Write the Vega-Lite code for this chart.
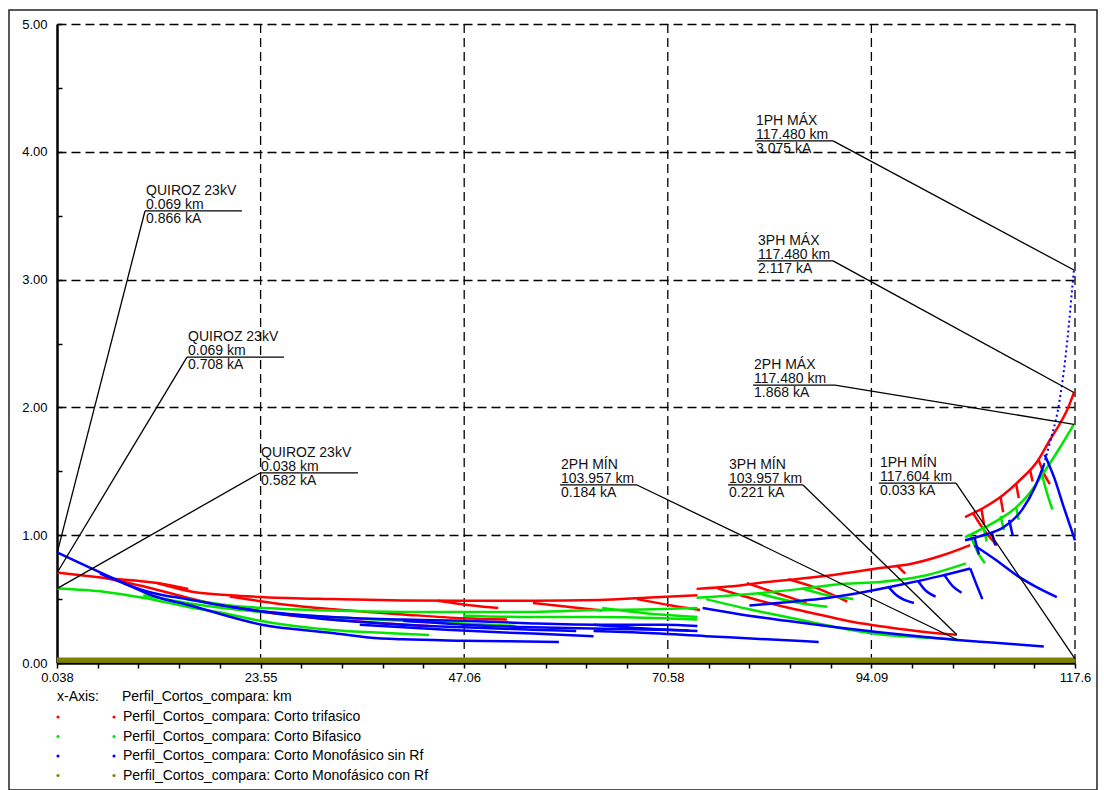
{
  "$schema": "https://vega.github.io/schema/vega-lite/v6.json",
  "width": 1088,
  "height": 780,
  "autosize": "none",
  "padding": {"left": 9, "top": 10, "right": 7, "bottom": 0},
  "background": "#ffffff",
  "config": {
    "view": {"stroke": "#222222", "strokeWidth": 1.5},
    "font": "Liberation Sans",
    "axis": {"labelFont": "Liberation Sans", "labelColor": "#000000"},
    "legend": {
      "padding": 0,
      "titleFont": "Liberation Sans",
      "titleFontSize": 14,
      "titleFontWeight": "normal",
      "titleColor": "#000000",
      "titlePadding": 6,
      "labelFont": "Liberation Sans",
      "labelFontSize": 14,
      "labelColor": "#000000",
      "rowPadding": 5.5,
      "symbolType": "circle",
      "symbolSize": 10,
      "symbolStrokeWidth": 0,
      "labelLimit": 600
    }
  },
  "datasets": {
    "perfil": [
      {"serie": "Corto trifasico", "tramo": "r1", "km": 0.038, "ka": 0.708},
      {"serie": "Corto trifasico", "tramo": "r1", "km": 5.6, "ka": 0.665},
      {"serie": "Corto trifasico", "tramo": "r1", "km": 11.6, "ka": 0.626},
      {"serie": "Corto trifasico", "tramo": "r1", "km": 15.2, "ka": 0.58},
      {"serie": "Corto trifasico", "tramo": "r2", "km": 11.6, "ka": 0.626},
      {"serie": "Corto trifasico", "tramo": "r2", "km": 15.5, "ka": 0.56},
      {"serie": "Corto trifasico", "tramo": "r2", "km": 20, "ka": 0.53},
      {"serie": "Corto trifasico", "tramo": "r2", "km": 24, "ka": 0.515},
      {"serie": "Corto trifasico", "tramo": "r2", "km": 31.6, "ka": 0.5},
      {"serie": "Corto trifasico", "tramo": "r2", "km": 40, "ka": 0.49},
      {"serie": "Corto trifasico", "tramo": "r2", "km": 47, "ka": 0.487},
      {"serie": "Corto trifasico", "tramo": "r2", "km": 55, "ka": 0.487},
      {"serie": "Corto trifasico", "tramo": "r2", "km": 62.7, "ka": 0.493},
      {"serie": "Corto trifasico", "tramo": "r2", "km": 68, "ka": 0.51},
      {"serie": "Corto trifasico", "tramo": "r2", "km": 74, "ka": 0.53},
      {"serie": "Corto trifasico", "tramo": "r3", "km": 5.6, "ka": 0.665},
      {"serie": "Corto trifasico", "tramo": "r3", "km": 10, "ka": 0.6},
      {"serie": "Corto trifasico", "tramo": "r3", "km": 14, "ka": 0.53},
      {"serie": "Corto trifasico", "tramo": "r3", "km": 18.3, "ka": 0.46},
      {"serie": "Corto trifasico", "tramo": "r3", "km": 23.7, "ka": 0.4},
      {"serie": "Corto trifasico", "tramo": "r3", "km": 31.8, "ka": 0.34},
      {"serie": "Corto trifasico", "tramo": "r3", "km": 38, "ka": 0.31},
      {"serie": "Corto trifasico", "tramo": "r3", "km": 43, "ka": 0.29},
      {"serie": "Corto trifasico", "tramo": "r4", "km": 20, "ka": 0.52},
      {"serie": "Corto trifasico", "tramo": "r4", "km": 26, "ka": 0.46},
      {"serie": "Corto trifasico", "tramo": "r4", "km": 32, "ka": 0.42},
      {"serie": "Corto trifasico", "tramo": "r4", "km": 40, "ka": 0.38},
      {"serie": "Corto trifasico", "tramo": "r4", "km": 47, "ka": 0.35},
      {"serie": "Corto trifasico", "tramo": "r4", "km": 52, "ka": 0.34},
      {"serie": "Corto trifasico", "tramo": "r5", "km": 44, "ka": 0.487},
      {"serie": "Corto trifasico", "tramo": "r5", "km": 48, "ka": 0.45},
      {"serie": "Corto trifasico", "tramo": "r5", "km": 51, "ka": 0.43},
      {"serie": "Corto trifasico", "tramo": "r16", "km": 55, "ka": 0.47},
      {"serie": "Corto trifasico", "tramo": "r16", "km": 59, "ka": 0.44},
      {"serie": "Corto trifasico", "tramo": "r16", "km": 63, "ka": 0.41},
      {"serie": "Corto trifasico", "tramo": "r6", "km": 67, "ka": 0.5},
      {"serie": "Corto trifasico", "tramo": "r6", "km": 71, "ka": 0.45},
      {"serie": "Corto trifasico", "tramo": "r6", "km": 74.3, "ka": 0.415},
      {"serie": "Corto trifasico", "tramo": "rb", "km": 73.9, "ka": 0.58},
      {"serie": "Corto trifasico", "tramo": "rb", "km": 78, "ka": 0.6},
      {"serie": "Corto trifasico", "tramo": "rb", "km": 82, "ka": 0.634},
      {"serie": "Corto trifasico", "tramo": "rb", "km": 85.9, "ka": 0.66},
      {"serie": "Corto trifasico", "tramo": "rb", "km": 89.7, "ka": 0.689},
      {"serie": "Corto trifasico", "tramo": "rb", "km": 95.1, "ka": 0.743},
      {"serie": "Corto trifasico", "tramo": "rb", "km": 98.6, "ka": 0.775},
      {"serie": "Corto trifasico", "tramo": "rb", "km": 102.4, "ka": 0.845},
      {"serie": "Corto trifasico", "tramo": "rb", "km": 105.5, "ka": 0.923},
      {"serie": "Corto trifasico", "tramo": "rd", "km": 76.3, "ka": 0.585},
      {"serie": "Corto trifasico", "tramo": "rd", "km": 80, "ka": 0.51},
      {"serie": "Corto trifasico", "tramo": "rd", "km": 84, "ka": 0.44},
      {"serie": "Corto trifasico", "tramo": "rd", "km": 88, "ka": 0.38},
      {"serie": "Corto trifasico", "tramo": "rd", "km": 92, "ka": 0.32},
      {"serie": "Corto trifasico", "tramo": "rd", "km": 96, "ka": 0.28},
      {"serie": "Corto trifasico", "tramo": "rd", "km": 100, "ka": 0.245},
      {"serie": "Corto trifasico", "tramo": "rd", "km": 103.957, "ka": 0.221},
      {"serie": "Corto trifasico", "tramo": "r7", "km": 79.7, "ka": 0.625},
      {"serie": "Corto trifasico", "tramo": "r7", "km": 83, "ka": 0.55},
      {"serie": "Corto trifasico", "tramo": "r7", "km": 86.6, "ka": 0.47},
      {"serie": "Corto trifasico", "tramo": "r8", "km": 84.5, "ka": 0.655},
      {"serie": "Corto trifasico", "tramo": "r8", "km": 88, "ka": 0.58},
      {"serie": "Corto trifasico", "tramo": "r8", "km": 91.3, "ka": 0.48},
      {"serie": "Corto trifasico", "tramo": "r9", "km": 97, "ka": 0.765},
      {"serie": "Corto trifasico", "tramo": "r9", "km": 98, "ka": 0.7},
      {"serie": "Corto trifasico", "tramo": "rc", "km": 104.9, "ka": 1.142},
      {"serie": "Corto trifasico", "tramo": "rc", "km": 107, "ka": 1.213},
      {"serie": "Corto trifasico", "tramo": "rc", "km": 109.3, "ka": 1.315},
      {"serie": "Corto trifasico", "tramo": "rc", "km": 111.25, "ka": 1.432},
      {"serie": "Corto trifasico", "tramo": "rc", "km": 113.2, "ka": 1.573},
      {"serie": "Corto trifasico", "tramo": "rc", "km": 114.7, "ka": 1.745},
      {"serie": "Corto trifasico", "tramo": "rc", "km": 115.9, "ka": 1.878},
      {"serie": "Corto trifasico", "tramo": "rc", "km": 116.8, "ka": 1.995},
      {"serie": "Corto trifasico", "tramo": "rc", "km": 117.48, "ka": 2.117},
      {"serie": "Corto trifasico", "tramo": "r10", "km": 105.8, "ka": 1.175},
      {"serie": "Corto trifasico", "tramo": "r10", "km": 107.2, "ka": 1.03},
      {"serie": "Corto trifasico", "tramo": "r10", "km": 108.6, "ka": 0.92},
      {"serie": "Corto trifasico", "tramo": "r11", "km": 106.8, "ka": 1.205},
      {"serie": "Corto trifasico", "tramo": "r11", "km": 107.1, "ka": 1.08},
      {"serie": "Corto trifasico", "tramo": "r12", "km": 109, "ka": 1.3},
      {"serie": "Corto trifasico", "tramo": "r12", "km": 109.3, "ka": 1.18},
      {"serie": "Corto trifasico", "tramo": "r13", "km": 110.8, "ka": 1.405},
      {"serie": "Corto trifasico", "tramo": "r13", "km": 111.1, "ka": 1.29},
      {"serie": "Corto trifasico", "tramo": "r14", "km": 113.4, "ka": 1.59},
      {"serie": "Corto trifasico", "tramo": "r14", "km": 114.1, "ka": 1.47},
      {"serie": "Corto trifasico", "tramo": "r14", "km": 114.7, "ka": 1.4},
      {"serie": "Corto trifasico", "tramo": "r15", "km": 112.4, "ka": 1.515},
      {"serie": "Corto trifasico", "tramo": "r15", "km": 112.7, "ka": 1.42},

      {"serie": "Corto Bifasico", "tramo": "g1", "km": 0.038, "ka": 0.582},
      {"serie": "Corto Bifasico", "tramo": "g1", "km": 5.6, "ka": 0.556},
      {"serie": "Corto Bifasico", "tramo": "g1", "km": 10, "ka": 0.51},
      {"serie": "Corto Bifasico", "tramo": "g1", "km": 15.2, "ka": 0.438},
      {"serie": "Corto Bifasico", "tramo": "g1", "km": 20, "ka": 0.38},
      {"serie": "Corto Bifasico", "tramo": "g1", "km": 23, "ka": 0.336},
      {"serie": "Corto Bifasico", "tramo": "g1", "km": 31.8, "ka": 0.258},
      {"serie": "Corto Bifasico", "tramo": "g1", "km": 38, "ka": 0.235},
      {"serie": "Corto Bifasico", "tramo": "g1", "km": 43, "ka": 0.22},
      {"serie": "Corto Bifasico", "tramo": "g2", "km": 15, "ka": 0.5},
      {"serie": "Corto Bifasico", "tramo": "g2", "km": 20, "ka": 0.45},
      {"serie": "Corto Bifasico", "tramo": "g2", "km": 24, "ka": 0.43},
      {"serie": "Corto Bifasico", "tramo": "g2", "km": 31.6, "ka": 0.41},
      {"serie": "Corto Bifasico", "tramo": "g2", "km": 40, "ka": 0.4},
      {"serie": "Corto Bifasico", "tramo": "g2", "km": 47, "ka": 0.4},
      {"serie": "Corto Bifasico", "tramo": "g2", "km": 55, "ka": 0.4},
      {"serie": "Corto Bifasico", "tramo": "g2", "km": 62.7, "ka": 0.415},
      {"serie": "Corto Bifasico", "tramo": "g2", "km": 69, "ka": 0.42},
      {"serie": "Corto Bifasico", "tramo": "g2", "km": 74, "ka": 0.43},
      {"serie": "Corto Bifasico", "tramo": "g3", "km": 10, "ka": 0.53},
      {"serie": "Corto Bifasico", "tramo": "g3", "km": 15, "ka": 0.47},
      {"serie": "Corto Bifasico", "tramo": "g3", "km": 23.5, "ka": 0.4},
      {"serie": "Corto Bifasico", "tramo": "g3", "km": 31.6, "ka": 0.36},
      {"serie": "Corto Bifasico", "tramo": "g3", "km": 40, "ka": 0.33},
      {"serie": "Corto Bifasico", "tramo": "g3", "km": 47, "ka": 0.31},
      {"serie": "Corto Bifasico", "tramo": "g3", "km": 53, "ka": 0.29},
      {"serie": "Corto Bifasico", "tramo": "g12", "km": 47, "ka": 0.37},
      {"serie": "Corto Bifasico", "tramo": "g12", "km": 55, "ka": 0.36},
      {"serie": "Corto Bifasico", "tramo": "g12", "km": 62, "ka": 0.36},
      {"serie": "Corto Bifasico", "tramo": "g12", "km": 70, "ka": 0.35},
      {"serie": "Corto Bifasico", "tramo": "g12", "km": 74, "ka": 0.34},
      {"serie": "Corto Bifasico", "tramo": "g4", "km": 63, "ka": 0.43},
      {"serie": "Corto Bifasico", "tramo": "g4", "km": 68, "ka": 0.39},
      {"serie": "Corto Bifasico", "tramo": "g4", "km": 74, "ka": 0.36},
      {"serie": "Corto Bifasico", "tramo": "gb", "km": 73.9, "ka": 0.51},
      {"serie": "Corto Bifasico", "tramo": "gb", "km": 80, "ka": 0.54},
      {"serie": "Corto Bifasico", "tramo": "gb", "km": 85.9, "ka": 0.58},
      {"serie": "Corto Bifasico", "tramo": "gb", "km": 91, "ka": 0.62},
      {"serie": "Corto Bifasico", "tramo": "gb", "km": 95.1, "ka": 0.634},
      {"serie": "Corto Bifasico", "tramo": "gb", "km": 100, "ka": 0.68},
      {"serie": "Corto Bifasico", "tramo": "gb", "km": 105, "ka": 0.78},
      {"serie": "Corto Bifasico", "tramo": "gd", "km": 75, "ka": 0.5},
      {"serie": "Corto Bifasico", "tramo": "gd", "km": 80, "ka": 0.42},
      {"serie": "Corto Bifasico", "tramo": "gd", "km": 85, "ka": 0.35},
      {"serie": "Corto Bifasico", "tramo": "gd", "km": 90, "ka": 0.28},
      {"serie": "Corto Bifasico", "tramo": "gd", "km": 95, "ka": 0.225},
      {"serie": "Corto Bifasico", "tramo": "gd", "km": 100, "ka": 0.2},
      {"serie": "Corto Bifasico", "tramo": "gd", "km": 103.957, "ka": 0.184},
      {"serie": "Corto Bifasico", "tramo": "g5", "km": 81, "ka": 0.545},
      {"serie": "Corto Bifasico", "tramo": "g5", "km": 85, "ka": 0.48},
      {"serie": "Corto Bifasico", "tramo": "g5", "km": 89, "ka": 0.44},
      {"serie": "Corto Bifasico", "tramo": "g6", "km": 86, "ka": 0.585},
      {"serie": "Corto Bifasico", "tramo": "g6", "km": 89, "ka": 0.53},
      {"serie": "Corto Bifasico", "tramo": "g6", "km": 92, "ka": 0.5},
      {"serie": "Corto Bifasico", "tramo": "gc", "km": 104.9, "ka": 0.985},
      {"serie": "Corto Bifasico", "tramo": "gc", "km": 108.1, "ka": 1.095},
      {"serie": "Corto Bifasico", "tramo": "gc", "km": 110.4, "ka": 1.195},
      {"serie": "Corto Bifasico", "tramo": "gc", "km": 112, "ka": 1.3},
      {"serie": "Corto Bifasico", "tramo": "gc", "km": 113.8, "ka": 1.47},
      {"serie": "Corto Bifasico", "tramo": "gc", "km": 115.9, "ka": 1.69},
      {"serie": "Corto Bifasico", "tramo": "gc", "km": 117.48, "ka": 1.868},
      {"serie": "Corto Bifasico", "tramo": "g7", "km": 105.5, "ka": 1.0},
      {"serie": "Corto Bifasico", "tramo": "g7", "km": 106.5, "ka": 0.85},
      {"serie": "Corto Bifasico", "tramo": "g7", "km": 107.2, "ka": 0.78},
      {"serie": "Corto Bifasico", "tramo": "g8", "km": 107, "ka": 1.07},
      {"serie": "Corto Bifasico", "tramo": "g8", "km": 107.4, "ka": 0.95},
      {"serie": "Corto Bifasico", "tramo": "g9", "km": 109, "ka": 1.15},
      {"serie": "Corto Bifasico", "tramo": "g9", "km": 109.4, "ka": 1.04},
      {"serie": "Corto Bifasico", "tramo": "g10", "km": 110.8, "ka": 1.22},
      {"serie": "Corto Bifasico", "tramo": "g10", "km": 111.1, "ka": 1.12},
      {"serie": "Corto Bifasico", "tramo": "g11", "km": 113.8, "ka": 1.47},
      {"serie": "Corto Bifasico", "tramo": "g11", "km": 114.5, "ka": 1.3},
      {"serie": "Corto Bifasico", "tramo": "g11", "km": 115, "ka": 1.2},

      {"serie": "Corto Monofásico sin Rf", "tramo": "b1", "km": 0.038, "ka": 0.866},
      {"serie": "Corto Monofásico sin Rf", "tramo": "b1", "km": 3.7, "ka": 0.75},
      {"serie": "Corto Monofásico sin Rf", "tramo": "b1", "km": 7.6, "ka": 0.63},
      {"serie": "Corto Monofásico sin Rf", "tramo": "b1", "km": 11.4, "ka": 0.52},
      {"serie": "Corto Monofásico sin Rf", "tramo": "b1", "km": 15.2, "ka": 0.454},
      {"serie": "Corto Monofásico sin Rf", "tramo": "b1", "km": 23.7, "ka": 0.3},
      {"serie": "Corto Monofásico sin Rf", "tramo": "b1", "km": 31.8, "ka": 0.235},
      {"serie": "Corto Monofásico sin Rf", "tramo": "b1", "km": 36, "ka": 0.2},
      {"serie": "Corto Monofásico sin Rf", "tramo": "b1", "km": 40, "ka": 0.185},
      {"serie": "Corto Monofásico sin Rf", "tramo": "b1", "km": 47, "ka": 0.175},
      {"serie": "Corto Monofásico sin Rf", "tramo": "b1", "km": 52, "ka": 0.17},
      {"serie": "Corto Monofásico sin Rf", "tramo": "b1", "km": 58, "ka": 0.165},
      {"serie": "Corto Monofásico sin Rf", "tramo": "b2", "km": 5, "ka": 0.7},
      {"serie": "Corto Monofásico sin Rf", "tramo": "b2", "km": 11, "ka": 0.55},
      {"serie": "Corto Monofásico sin Rf", "tramo": "b2", "km": 15, "ka": 0.5},
      {"serie": "Corto Monofásico sin Rf", "tramo": "b2", "km": 23, "ka": 0.41},
      {"serie": "Corto Monofásico sin Rf", "tramo": "b2", "km": 31.6, "ka": 0.36},
      {"serie": "Corto Monofásico sin Rf", "tramo": "b2", "km": 40, "ka": 0.34},
      {"serie": "Corto Monofásico sin Rf", "tramo": "b2", "km": 47, "ka": 0.33},
      {"serie": "Corto Monofásico sin Rf", "tramo": "b2", "km": 55, "ka": 0.31},
      {"serie": "Corto Monofásico sin Rf", "tramo": "b2", "km": 62.7, "ka": 0.3},
      {"serie": "Corto Monofásico sin Rf", "tramo": "b2", "km": 70, "ka": 0.3},
      {"serie": "Corto Monofásico sin Rf", "tramo": "b2", "km": 74, "ka": 0.29},
      {"serie": "Corto Monofásico sin Rf", "tramo": "b3", "km": 20, "ka": 0.44},
      {"serie": "Corto Monofásico sin Rf", "tramo": "b3", "km": 31.6, "ka": 0.34},
      {"serie": "Corto Monofásico sin Rf", "tramo": "b3", "km": 40, "ka": 0.3},
      {"serie": "Corto Monofásico sin Rf", "tramo": "b3", "km": 47, "ka": 0.28},
      {"serie": "Corto Monofásico sin Rf", "tramo": "b3", "km": 55, "ka": 0.26},
      {"serie": "Corto Monofásico sin Rf", "tramo": "b3", "km": 60, "ka": 0.25},
      {"serie": "Corto Monofásico sin Rf", "tramo": "b4", "km": 40, "ka": 0.33},
      {"serie": "Corto Monofásico sin Rf", "tramo": "b4", "km": 47, "ka": 0.3},
      {"serie": "Corto Monofásico sin Rf", "tramo": "b4", "km": 55, "ka": 0.28},
      {"serie": "Corto Monofásico sin Rf", "tramo": "b4", "km": 62, "ka": 0.27},
      {"serie": "Corto Monofásico sin Rf", "tramo": "b4", "km": 70, "ka": 0.26},
      {"serie": "Corto Monofásico sin Rf", "tramo": "b4", "km": 74, "ka": 0.25},
      {"serie": "Corto Monofásico sin Rf", "tramo": "b15", "km": 35, "ka": 0.3},
      {"serie": "Corto Monofásico sin Rf", "tramo": "b15", "km": 45, "ka": 0.26},
      {"serie": "Corto Monofásico sin Rf", "tramo": "b15", "km": 55, "ka": 0.23},
      {"serie": "Corto Monofásico sin Rf", "tramo": "b15", "km": 62, "ka": 0.21},
      {"serie": "Corto Monofásico sin Rf", "tramo": "b16", "km": 62, "ka": 0.3},
      {"serie": "Corto Monofásico sin Rf", "tramo": "b16", "km": 68, "ka": 0.27},
      {"serie": "Corto Monofásico sin Rf", "tramo": "b16", "km": 73, "ka": 0.255},
      {"serie": "Corto Monofásico sin Rf", "tramo": "b5", "km": 62, "ka": 0.25},
      {"serie": "Corto Monofásico sin Rf", "tramo": "b5", "km": 66.5, "ka": 0.24},
      {"serie": "Corto Monofásico sin Rf", "tramo": "b5", "km": 75, "ka": 0.21},
      {"serie": "Corto Monofásico sin Rf", "tramo": "b5", "km": 82, "ka": 0.185},
      {"serie": "Corto Monofásico sin Rf", "tramo": "b5", "km": 88, "ka": 0.165},
      {"serie": "Corto Monofásico sin Rf", "tramo": "bb", "km": 74.6, "ka": 0.43},
      {"serie": "Corto Monofásico sin Rf", "tramo": "bb", "km": 79, "ka": 0.38},
      {"serie": "Corto Monofásico sin Rf", "tramo": "bb", "km": 84.3, "ka": 0.33},
      {"serie": "Corto Monofásico sin Rf", "tramo": "bb", "km": 90, "ka": 0.28},
      {"serie": "Corto Monofásico sin Rf", "tramo": "bb", "km": 95, "ka": 0.24},
      {"serie": "Corto Monofásico sin Rf", "tramo": "bb", "km": 100, "ka": 0.205},
      {"serie": "Corto Monofásico sin Rf", "tramo": "bb", "km": 104, "ka": 0.18},
      {"serie": "Corto Monofásico sin Rf", "tramo": "bb", "km": 108, "ka": 0.16},
      {"serie": "Corto Monofásico sin Rf", "tramo": "bb", "km": 114, "ka": 0.13},
      {"serie": "Corto Monofásico sin Rf", "tramo": "bc", "km": 80, "ka": 0.45},
      {"serie": "Corto Monofásico sin Rf", "tramo": "bc", "km": 85, "ka": 0.48},
      {"serie": "Corto Monofásico sin Rf", "tramo": "bc", "km": 88, "ka": 0.5},
      {"serie": "Corto Monofásico sin Rf", "tramo": "bc", "km": 92.8, "ka": 0.55},
      {"serie": "Corto Monofásico sin Rf", "tramo": "bc", "km": 98, "ka": 0.62},
      {"serie": "Corto Monofásico sin Rf", "tramo": "bc", "km": 102, "ka": 0.68},
      {"serie": "Corto Monofásico sin Rf", "tramo": "bc", "km": 105.5, "ka": 0.74},
      {"serie": "Corto Monofásico sin Rf", "tramo": "b6", "km": 96, "ka": 0.6},
      {"serie": "Corto Monofásico sin Rf", "tramo": "b6", "km": 97, "ka": 0.53},
      {"serie": "Corto Monofásico sin Rf", "tramo": "b6", "km": 99, "ka": 0.47},
      {"serie": "Corto Monofásico sin Rf", "tramo": "b7", "km": 99.5, "ka": 0.64},
      {"serie": "Corto Monofásico sin Rf", "tramo": "b7", "km": 100.3, "ka": 0.57},
      {"serie": "Corto Monofásico sin Rf", "tramo": "b7", "km": 101.5, "ka": 0.52},
      {"serie": "Corto Monofásico sin Rf", "tramo": "b8", "km": 102.5, "ka": 0.69},
      {"serie": "Corto Monofásico sin Rf", "tramo": "b8", "km": 103.5, "ka": 0.6},
      {"serie": "Corto Monofásico sin Rf", "tramo": "b8", "km": 104.5, "ka": 0.55},
      {"serie": "Corto Monofásico sin Rf", "tramo": "b9", "km": 105.5, "ka": 0.74},
      {"serie": "Corto Monofásico sin Rf", "tramo": "b9", "km": 106.3, "ka": 0.6},
      {"serie": "Corto Monofásico sin Rf", "tramo": "b9", "km": 106.9, "ka": 0.5},
      {"serie": "Corto Monofásico sin Rf", "tramo": "b10", "km": 106, "ka": 0.92},
      {"serie": "Corto Monofásico sin Rf", "tramo": "b10", "km": 108.6, "ka": 0.8},
      {"serie": "Corto Monofásico sin Rf", "tramo": "b10", "km": 111, "ka": 0.68},
      {"serie": "Corto Monofásico sin Rf", "tramo": "b10", "km": 113, "ka": 0.6},
      {"serie": "Corto Monofásico sin Rf", "tramo": "b10", "km": 115.5, "ka": 0.516},
      {"serie": "Corto Monofásico sin Rf", "tramo": "bd", "km": 104.9, "ka": 0.96},
      {"serie": "Corto Monofásico sin Rf", "tramo": "bd", "km": 107, "ka": 1.0},
      {"serie": "Corto Monofásico sin Rf", "tramo": "bd", "km": 109.3, "ka": 1.06},
      {"serie": "Corto Monofásico sin Rf", "tramo": "bd", "km": 111.5, "ka": 1.2},
      {"serie": "Corto Monofásico sin Rf", "tramo": "bd", "km": 113, "ka": 1.38},
      {"serie": "Corto Monofásico sin Rf", "tramo": "bd", "km": 114, "ka": 1.55},
      {"serie": "Corto Monofásico sin Rf", "tramo": "b11", "km": 114.1, "ka": 1.63},
      {"serie": "Corto Monofásico sin Rf", "tramo": "b11", "km": 115.2, "ka": 1.45},
      {"serie": "Corto Monofásico sin Rf", "tramo": "b11", "km": 116.3, "ka": 1.22},
      {"serie": "Corto Monofásico sin Rf", "tramo": "b11", "km": 117.6, "ka": 0.96},
      {"serie": "Corto Monofásico sin Rf", "tramo": "b12", "km": 106, "ka": 0.98},
      {"serie": "Corto Monofásico sin Rf", "tramo": "b12", "km": 106.5, "ka": 0.85},
      {"serie": "Corto Monofásico sin Rf", "tramo": "b13", "km": 108, "ka": 1.02},
      {"serie": "Corto Monofásico sin Rf", "tramo": "b13", "km": 108.4, "ka": 0.92},
      {"serie": "Corto Monofásico sin Rf", "tramo": "b14", "km": 110, "ka": 1.12},
      {"serie": "Corto Monofásico sin Rf", "tramo": "b14", "km": 110.4, "ka": 1.0},

      {"serie": "Corto Monofásico con Rf", "tramo": "o1", "km": 0.038, "ka": 0.033},
      {"serie": "Corto Monofásico con Rf", "tramo": "o1", "km": 117.604, "ka": 0.033},
      {"serie": "Corto Monofásico con Rf", "tramo": "o2", "km": 0.038, "ka": 0.022},
      {"serie": "Corto Monofásico con Rf", "tramo": "o2", "km": 117.6, "ka": 0.022},
      {"serie": "Corto Monofásico con Rf", "tramo": "o3", "km": 0.038, "ka": 0.012},
      {"serie": "Corto Monofásico con Rf", "tramo": "o3", "km": 117.6, "ka": 0.012}
    ],
    "punteado": [
      {"serie": "Corto Monofásico sin Rf", "tramo": "bd2", "km": 114, "ka": 1.55},
      {"serie": "Corto Monofásico sin Rf", "tramo": "bd2", "km": 114.8, "ka": 1.75},
      {"serie": "Corto Monofásico sin Rf", "tramo": "bd2", "km": 115.6, "ka": 1.97},
      {"serie": "Corto Monofásico sin Rf", "tramo": "bd2", "km": 116.3, "ka": 2.28},
      {"serie": "Corto Monofásico sin Rf", "tramo": "bd2", "km": 116.9, "ka": 2.65},
      {"serie": "Corto Monofásico sin Rf", "tramo": "bd2", "km": 117.3, "ka": 2.95},
      {"serie": "Corto Monofásico sin Rf", "tramo": "bd2", "km": 117.48, "ka": 3.075}
    ],
    "rejilla": [
      {"km": 23.5504},
      {"km": 47.0628},
      {"km": 70.5752},
      {"km": 94.0876},
      {"km": 117.6}
    ],
    "marcas": [
      {"etiqueta": "1PH MÁX\n117.480 km\n3.075 kA", "km": 117.48, "ka": 3.075, "ux1": 80.64, "ux2": 89.66, "uy": 4.085, "ax": 89.66},
      {"etiqueta": "3PH MÁX\n117.480 km\n2.117 kA", "km": 117.48, "ka": 2.117, "ux1": 80.88, "ux2": 89.66, "uy": 3.146, "ax": 89.66},
      {"etiqueta": "2PH MÁX\n117.480 km\n1.868 kA", "km": 117.48, "ka": 1.868, "ux1": 80.42, "ux2": 89.89, "uy": 2.175, "ax": 89.89},
      {"etiqueta": "1PH MÍN\n117.604 km\n0.033 kA", "km": 117.604, "ka": 0.033, "ux1": 94.96, "ux2": 103.86, "uy": 1.408, "ax": 103.86},
      {"etiqueta": "3PH MÍN\n103.957 km\n0.221 kA", "km": 103.957, "ka": 0.221, "ux1": 77.53, "ux2": 86.19, "uy": 1.393, "ax": 86.19},
      {"etiqueta": "2PH MÍN\n103.957 km\n0.184 kA", "km": 103.957, "ka": 0.184, "ux1": 58.13, "ux2": 67.02, "uy": 1.393, "ax": 67.02},
      {"etiqueta": "QUIROZ 23kV\n0.069 km\n0.866 kA", "km": 0.069, "ka": 0.866, "ux1": 10.2, "ux2": 21.4, "uy": 3.537, "ax": 10.2},
      {"etiqueta": "QUIROZ 23kV\n0.069 km\n0.708 kA", "km": 0.069, "ka": 0.708, "ux1": 15.05, "ux2": 26.25, "uy": 2.394, "ax": 15.05},
      {"etiqueta": "QUIROZ 23kV\n0.038 km\n0.582 kA", "km": 0.038, "ka": 0.582, "ux1": 23.48, "ux2": 34.8, "uy": 1.487, "ax": 23.48}
    ],
    "claves": [
      {"serie": "Corto trifasico"},
      {"serie": "Corto Bifasico"},
      {"serie": "Corto Monofásico sin Rf"},
      {"serie": "Corto Monofásico con Rf"}
    ]
  },
  "layer": [
    {
      "data": {"name": "rejilla"},
      "mark": {"type": "rule", "color": "#000000", "strokeWidth": 1.3, "strokeDash": [9, 5]},
      "encoding": {
        "x": {"field": "km", "type": "quantitative"},
        "y": {"datum": 0, "type": "quantitative"},
        "y2": {"datum": 5}
      }
    },
    {
      "data": {"name": "perfil"},
      "mark": {"type": "line", "strokeWidth": 2.5, "interpolate": "monotone"},
      "encoding": {
        "x": {
          "field": "km",
          "type": "quantitative",
          "scale": {"domain": [0.038, 117.6], "range": [48, 1066], "nice": false, "zero": false},
          "axis": {
            "title": null,
            "offset": -127,
            "values": [0.038, 2.3892, 4.7405, 7.0917, 9.443, 11.7942, 14.1454, 16.4967, 18.8479, 21.1992, 23.5504, 25.9016, 28.2529, 30.6041, 32.9554, 35.3066, 37.6578, 40.0091, 42.3603, 44.7116, 47.0628, 49.414, 51.7653, 54.1165, 56.4678, 58.819, 61.1702, 63.5215, 65.8727, 68.224, 70.5752, 72.9264, 75.2777, 77.6289, 79.9802, 82.3314, 84.6826, 87.0339, 89.3851, 91.7364, 94.0876, 96.4388, 98.7901, 101.1413, 103.4926, 105.8438, 108.195, 110.5463, 112.8975, 115.2488, 117.6],
            "labelExpr": "abs((datum.value - 0.038) / 23.5124 - round((datum.value - 0.038) / 23.5124)) < 0.01 ? format(datum.value, '.4~r') : ''",
            "labelFontSize": 13,
            "labelPadding": 3,
            "labelFlush": false,
            "labelOverlap": false,
            "grid": false,
            "domainColor": "#000000",
            "domainWidth": 2.5,
            "tickColor": "#000000",
            "tickWidth": 1.5,
            "tickSize": 5
          }
        },
        "y": {
          "field": "ka",
          "type": "quantitative",
          "scale": {"domain": [0, 5], "range": [653, 14], "nice": false},
          "axis": {
            "title": null,
            "offset": -48,
            "values": [0, 0.5, 1, 1.5, 2, 2.5, 3, 3.5, 4, 4.5, 5],
            "labelExpr": "datum.value % 1 === 0 ? format(datum.value, '.2f') : ''",
            "labelFontSize": 13,
            "labelPadding": 15,
            "labelFlush": false,
            "labelOverlap": false,
            "grid": true,
            "gridColor": "#000000",
            "gridDash": [9, 5],
            "gridWidth": 1.3,
            "gridOpacity": {"condition": {"test": "datum.value % 1 === 0 && datum.value > 0", "value": 1}, "value": 0},
            "domainColor": "#000000",
            "domainWidth": 2.5,
            "tickColor": "#000000",
            "tickWidth": 1.5,
            "tickSize": -5
          }
        },
        "color": {
          "field": "serie",
          "type": "nominal",
          "scale": {
            "domain": ["Corto trifasico", "Corto Bifasico", "Corto Monofásico sin Rf", "Corto Monofásico con Rf"],
            "range": ["#ff0000", "#00e600", "#0000ff", "#808000"]
          },
          "legend": {
            "title": "Perfil_Cortos_compara: km",
            "orient": "none",
            "legendX": 98,
            "legendY": 680,
            "labelOffset": 2,
            "labelExpr": "'Perfil_Cortos_compara: ' + datum.label",
            "encode": {
              "title": {"update": {"dx": {"value": 15}}},
              "symbols": {"update": {"fill": {"scale": "color", "field": "value"}, "stroke": {"value": "transparent"}}}
            }
          }
        },
        "detail": {"field": "tramo"}
      }
    },
    {
      "data": {"name": "punteado"},
      "mark": {"type": "line", "strokeWidth": 2, "strokeDash": [2, 3], "interpolate": "monotone"},
      "encoding": {
        "x": {"field": "km", "type": "quantitative"},
        "y": {"field": "ka", "type": "quantitative"},
        "color": {"field": "serie", "type": "nominal", "legend": null},
        "detail": {"field": "tramo"}
      }
    },
    {
      "data": {"name": "claves"},
      "mark": {"type": "point", "filled": true, "opacity": 0, "shape": "circle"},
      "encoding": {
        "fill": {
          "field": "serie",
          "type": "nominal",
          "sort": null,
          "scale": {"range": ["#ff0000", "#00e600", "#0000ff", "#808000"]},
          "legend": {
            "title": "x-Axis:",
            "orient": "none",
            "legendX": 42,
            "legendY": 680,
            "labelExpr": "'\u00a0'",
            "symbolType": "circle",
            "symbolSize": 10,
            "symbolStrokeWidth": 0,
            "symbolOpacity": 1,
            "encode": {
              "title": {"update": {"dx": {"value": 6}}}
            }
          }
        }
      }
    },
    {
      "data": {"name": "marcas"},
      "mark": {"type": "rule", "color": "#000000", "strokeWidth": 1.3},
      "encoding": {
        "x": {"field": "ux1", "type": "quantitative"},
        "x2": {"field": "ux2"},
        "y": {"field": "uy", "type": "quantitative"}
      }
    },
    {
      "data": {"name": "marcas"},
      "mark": {"type": "rule", "color": "#000000", "strokeWidth": 1.3},
      "encoding": {
        "x": {"field": "ax", "type": "quantitative"},
        "y": {"field": "uy", "type": "quantitative"},
        "x2": {"field": "km"},
        "y2": {"field": "ka"}
      }
    },
    {
      "data": {"name": "marcas"},
      "mark": {
        "type": "text",
        "align": "left",
        "baseline": "top",
        "dx": 1,
        "dy": -27,
        "lineBreak": "\n",
        "lineHeight": 14,
        "font": "Liberation Sans",
        "fontSize": 14,
        "color": "#111111"
      },
      "encoding": {
        "x": {"field": "ux1", "type": "quantitative"},
        "y": {"field": "uy", "type": "quantitative"},
        "text": {"field": "etiqueta"}
      }
    }
  ]
}
